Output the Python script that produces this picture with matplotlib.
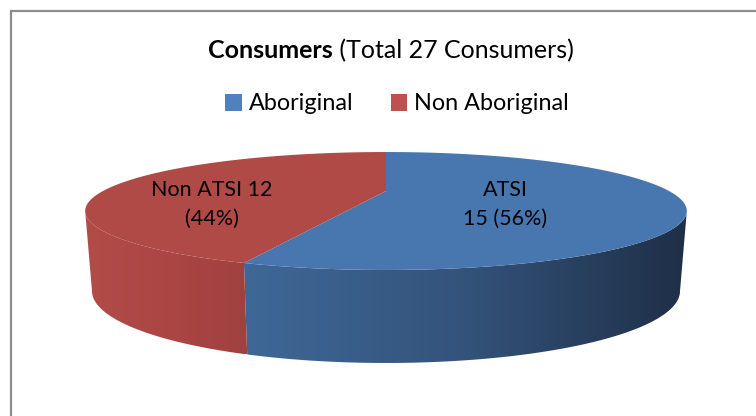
import numpy as np
import matplotlib
matplotlib.use("Agg")
import matplotlib.pyplot as plt
from matplotlib.patches import Polygon, Rectangle, Patch
from matplotlib.colors import LinearSegmentedColormap

# ---------------- data ----------------
categories = ["Aboriginal", "Non Aboriginal"]
slice_names = ["ATSI", "Non ATSI"]
values = [15, 12]
total = sum(values)
title_bold = "Consumers"
title_rest = f" (Total {total} Consumers)"

# ---------------- style ----------------
FONT = ["Lato", "DejaVu Sans"]
top_colors = ["#4877B0", "#B04A47"]
legend_colors = ["#4F81BD", "#C0504D"]
side_stops = [["#3F6897", "#33537A", "#1F2F47"], ["#B24C49", "#AB4644", "#A04140"]]

W, H = 756, 416
fig = plt.figure(figsize=(W / 100, H / 100), dpi=100)
ax = fig.add_axes([0, 0, 1, 1])
ax.set_xlim(0, W)
ax.set_ylim(H, 0)
ax.axis("off")

# border
ax.add_patch(Rectangle((11, 11), 900, 600, facecolor="white", edgecolor="#8C8C8C",
                       linewidth=1.6, zorder=0))

# perspective projection of the pie disk
K = 0.339
TOP = dict(cx=386.0, y0=191.0, A=283.0, B=52.2)
BOT = dict(cx=386.0, y0=266.6, A=276.6, B=63.7)


def proj(phi, p):
    x = np.cos(phi)
    y = np.sin(phi)
    w = 1 + K * y
    return p["cx"] + p["A"] * x / w, p["y0"] - p["B"] * y / w


vis_lo = -(np.pi - np.arcsin(K))   # left silhouette, about -160 deg
vis_hi = -np.arcsin(K)             # right silhouette, about -20 deg

# slice angles (start at 12 o'clock, clockwise)
starts, ends = [], []
a = np.pi / 2
for v in values:
    b = a - 2 * np.pi * v / total
    starts.append(a)
    ends.append(b)
    a = b

# side faces
for i in range(len(values)):
    hi, lo = starts[i], ends[i]
    segs = []
    for shift in (0, -2 * np.pi, 2 * np.pi):
        h = min(hi + shift, vis_hi)
        l = max(lo + shift, vis_lo)
        if h > l:
            segs.append((l, h))
    for l, h in segs:
        ph = np.linspace(l, h, 200)
        tx, ty = proj(ph, TOP)
        bx, by = proj(ph[::-1], BOT)
        pts = np.column_stack([np.concatenate([tx, bx]), np.concatenate([ty, by])])
        poly = Polygon(pts, closed=True, facecolor="none", edgecolor="none", zorder=2)
        ax.add_patch(poly)
        x0, x1 = pts[:, 0].min(), pts[:, 0].max()
        y0, y1 = pts[:, 1].min(), pts[:, 1].max()
        cmap = LinearSegmentedColormap.from_list(f"s{i}", side_stops[i])
        grad = np.linspace(0, 1, 256).reshape(1, -1)
        im = ax.imshow(grad, cmap=cmap, extent=(x0, x1, y1, y0), aspect="auto",
                       interpolation="bilinear", zorder=2)
        im.set_clip_path(poly)

ax.set_xlim(0, W)
ax.set_ylim(H, 0)

# top faces
center = (TOP["cx"], TOP["y0"])
for i in range(len(values)):
    ph = np.linspace(starts[i], ends[i], 300)
    tx, ty = proj(ph, TOP)
    pts = np.vstack([[center], np.column_stack([tx, ty])])
    ax.add_patch(Polygon(pts, closed=True, facecolor=top_colors[i], edgecolor="none",
                         zorder=3, antialiased=True))

# data labels
label_pos = [(505, 204), (212, 204)]
labels = [f"{slice_names[0]}\n{values[0]} ({values[0] / total:.0%})",
          f"{slice_names[1]} {values[1]}\n({values[1] / total:.0%})"]
for (lx, ly), t in zip(label_pos, labels):
    ax.text(lx, ly, t, ha="center", va="center", fontsize=15.5, family=FONT,
            linespacing=1.55, color="black", zorder=5)

# title (bold + regular parts)
t1 = ax.text(0, 51, title_bold, ha="left", va="center", fontsize=18, fontweight="bold",
             family=FONT, zorder=5)
t2 = ax.text(0, 51, title_rest, ha="left", va="center", fontsize=18, family=FONT, zorder=5)
fig.canvas.draw()
r = fig.canvas.get_renderer()
w1 = t1.get_window_extent(r).width
w2 = t2.get_window_extent(r).width
xs = 391 - (w1 + w2) / 2
t1.set_x(xs)
t2.set_x(xs + w1)

# legend
handles = [Patch(facecolor=c, edgecolor="none", label=l) for c, l in zip(legend_colors, categories)]
leg = fig.legend(handles=handles, loc="center", bbox_to_anchor=(397 / W, 1 - 104 / H),
                 ncol=2, frameon=False, prop={"family": FONT, "size": 16.8},
                 handlelength=0.7, handleheight=0.7, handletextpad=0.3, columnspacing=1.6)

fig.savefig("out.png", dpi=100)
